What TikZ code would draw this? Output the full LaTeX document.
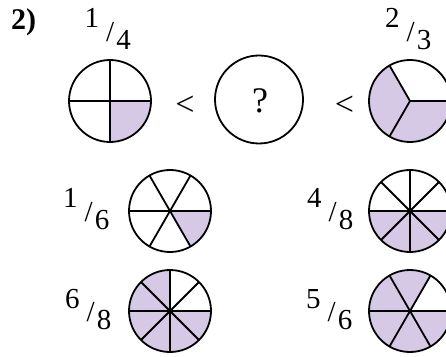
\documentclass[tikz,border=0pt]{standalone}
\usepackage{fontspec}
\setmainfont{Liberation Serif}
\definecolor{pielilac}{RGB}{214,201,230}
\newcommand\myfrac[2]{\raisebox{13.5pt}{#1}\kern7pt/\kern2pt\raisebox{-8pt}{#2}}
\tikzset{
  pieline/.style={line width=1.8pt, line join=round, draw=black},
  fraclabel/.style={anchor=base west, inner sep=0pt, font=\fontsize{29}{33}\selectfont},
  relsign/.style={anchor=center, inner sep=0pt, font=\fontsize{34}{38}\selectfont},
}
% #1 centre, #2 radius, #3 parts, #4 shade start, #5 shade end
\newcommand\mypie[5]{%
  \fill[pielilac] (#1) -- ++(#4:#2) arc[start angle=#4, end angle=#5, radius=#2] -- cycle;
  \foreach \k in {1,...,#3} {\draw[pieline] (#1) -- ++({360/#3*\k}:#2);}
  \draw[pieline] (#1) circle[radius=#2];
}
\begin{document}
\begin{tikzpicture}[x=1pt,y=1pt]
\useasboundingbox (0,0) rectangle (446,356);
\clip (0,0) rectangle (446,356);
\fill[white] (0,0) rectangle (446,356);

% centres
\coordinate (c14) at (110,255);
\coordinate (cq)  at (259,256.5);
\coordinate (c23) at (410,255);
\coordinate (c16) at (170,145);
\coordinate (c48) at (410,145);
\coordinate (c68) at (170,45);
\coordinate (c56) at (410,45);

% task number
\node[anchor=base west, inner sep=0pt, font=\fontsize{30}{34}\selectfont\bfseries] (num) at (11,326) {2)};

% first row
\mypie{c14}{41pt}{4}{270}{360}
\node[relsign] (lt1) at (185,250) {<};
\draw[pieline] (cq) circle[radius=44pt];
\node[anchor=base, inner sep=0pt, font=\fontsize{36}{40}\selectfont] (q) at (260,243.5) {?};
\node[relsign] (lt2) at (344.5,250) {<};
\mypie{c23}{41pt}{3}{120}{360}

% second and third rows
\mypie{c16}{41pt}{6}{300}{360}
\mypie{c48}{41pt}{8}{180}{360}
\mypie{c68}{41pt}{8}{90}{360}
\mypie{c56}{41pt}{6}{60}{360}

% fraction labels
\node[fraclabel] (f14) at (84.5,314.5) {\myfrac{1}{4}};
\node[fraclabel] (f23) at (385,314.5) {\myfrac{2}{3}};
\node[fraclabel] (f16) at (63,134.5) {\myfrac{1}{6}};
\node[fraclabel] (f48) at (307,134.5) {\myfrac{4}{8}};
\node[fraclabel] (f68) at (65,34.5) {\myfrac{6}{8}};
\node[fraclabel] (f56) at (306,34.5) {\myfrac{5}{6}};
\end{tikzpicture}
\end{document}
